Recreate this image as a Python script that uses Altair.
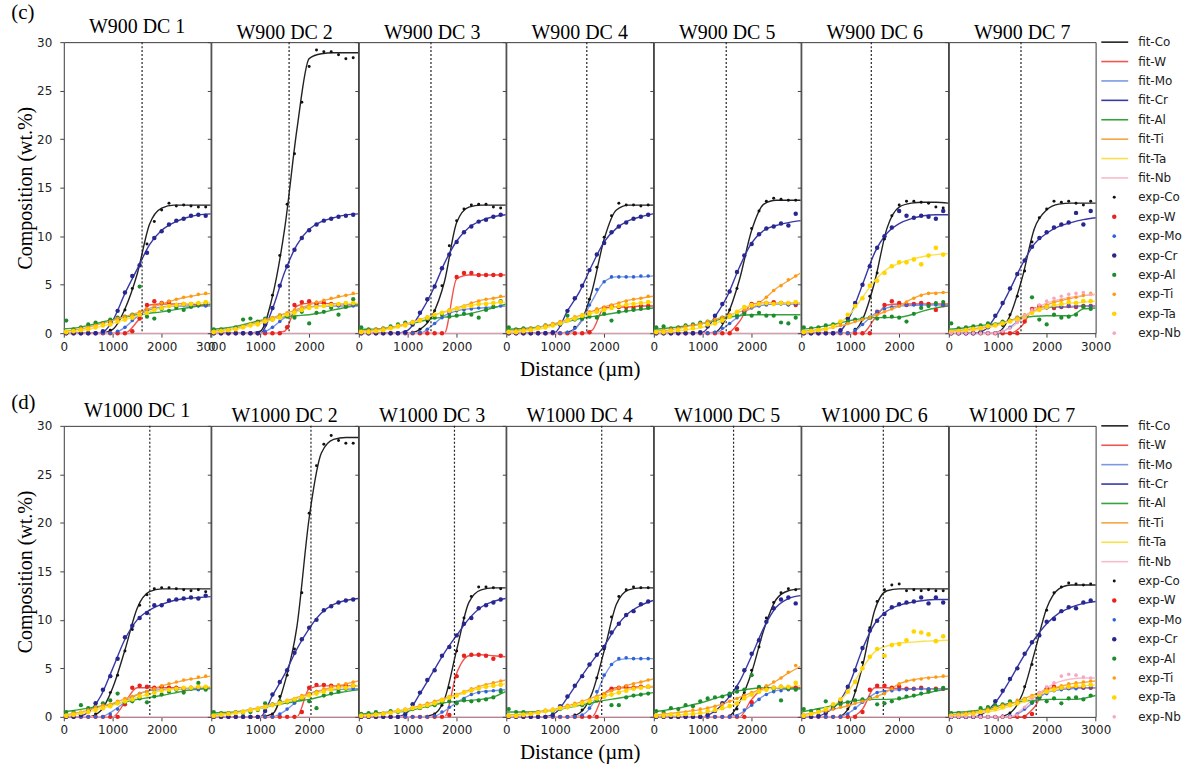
import altair as alt
import pandas as pd

# ---------------------------------------------------------------------------
# Sampling positions (µm): fitted curves and measured points
# ---------------------------------------------------------------------------
FIT_X = [0, 250, 500, 750, 1000, 1250, 1500, 1750, 2000, 2250, 2500, 2750, 3000]
EXP_X = [50, 200, 350, 500, 650, 800, 950, 1100, 1250, 1400, 1550, 1700, 1850,
         2000, 2150, 2300, 2450, 2600, 2750, 2900]

ELEMENTS = ["Co", "W", "Mo", "Cr", "Al", "Ti", "Ta", "Nb"]
FIT_COLORS = ["#222222", "#f2544e", "#7b98e2", "#3838a6", "#34a33a", "#f5a640", "#f9e04c", "#f7bccb"]
EXP_COLORS = ["#111111", "#e8221c", "#2f63d8", "#27278f", "#1c8c2c", "#ff9a10", "#ffd500", "#f8a6bf"]
EXP_SIZES = [9, 20, 13, 20, 18, 13, 22, 13]

ROW_C_TITLES = ["W900 DC 1", "W900 DC 2", "W900 DC 3", "W900 DC 4",
                "W900 DC 5", "W900 DC 6", "W900 DC 7"]
ROW_D_TITLES = ["W1000 DC 1", "W1000 DC 2", "W1000 DC 3", "W1000 DC 4",
                "W1000 DC 5", "W1000 DC 6", "W1000 DC 7"]
ROW_C_INTERFACE = [1600, 1590, 1475, 1645, 1480, 1430, 1475]
ROW_D_INTERFACE = [1758, 2037, 1955, 1950, 1630, 1676, 1786]

# Nb is absent from most couples: a flat fitted line and no measured points
NB_NONE_FIT = [0, 0, 0, 0, 0, 0, 0, 0, 0, 0, 0, 0, 0]
NB_NONE_EXP = []

# ---------------------------------------------------------------------------
# W900 couples
# ---------------------------------------------------------------------------
W900_DC1_FIT = dict(
    Co=[0, 0, 0, 0, 0.4, 2.5, 6.1, 11.2, 12.9, 13.2, 13.2, 13.2, 13.2],
    W=[0, 0, 0, 0, 0, 0, 1.2, 2.9, 3.0, 3.0, 3.0, 2.9, 2.9],
    Mo=[0, 0, 0, 0, 0, 0.6, 1.7, 2.4, 2.7, 2.8, 2.8, 2.8, 2.8],
    Cr=[0, 0, 0, 0, 1.3, 4.1, 6.6, 9.1, 10.6, 11.4, 11.9, 12.2, 12.3],
    Al=[0.45, 0.55, 0.8, 1.1, 1.4, 1.65, 1.9, 2.05, 2.2, 2.4, 2.6, 2.8, 3.0],
    Ti=[0.2, 0.35, 0.6, 0.95, 1.3, 1.7, 2.1, 2.55, 3.0, 3.4, 3.7, 3.95, 4.1],
    Ta=[0.1, 0.2, 0.4, 0.7, 1.0, 1.4, 1.8, 2.2, 2.6, 2.85, 3.0, 3.1, 3.2],
    Nb=NB_NONE_FIT,
)
W900_DC1_EXP = dict(
    Co=[0, 0, 0, 0, 0, 0, 0.3, 1.3, 2.4, 4.6, 7.0, 9.2, 11.5, 12.7, 13.4, 13.1, 13.2, 13.1, 13.0, 13.0],
    W=[0, 0, 0, 0, 0, 0, 0, 0, 0, 0.2, 1.5, 2.9, 3.3, 3.1, 3.2, 2.9, 3.0, 3.0, 2.9, 2.9],
    Mo=[0, 0, 0, 0, 0, 0, 0, 0.2, 0.6, 1.3, 1.9, 2.4, 2.6, 2.7, 2.8, 2.8, 2.9, 2.8, 2.8, 2.8],
    Cr=[0, 0, 0, 0, 0, 0.2, 1.1, 2.3, 4.2, 5.9, 7.0, 8.3, 9.8, 10.5, 11.2, 11.6, 11.8, 12.1, 12.2, 12.1],
    Al=[1.3, 0.4, 0.6, 0.9, 1.1, 1.0, 1.4, 1.6, 1.7, 1.9, 4.8, 1.7, 1.5, 2.5, 2.3, 2.6, 2.4, 2.7, 2.9, 3.1],
    Ti=[0.2, 0.3, 0.5, 0.6, 0.8, 1.0, 1.2, 1.5, 1.7, 1.9, 2.2, 2.5, 2.8, 3.1, 3.3, 3.5, 3.7, 3.8, 4.0, 4.1],
    Ta=[0.1, 0.2, 0.3, 0.4, 0.6, 0.8, 0.9, 1.2, 1.4, 1.6, 1.9, 2.1, 2.4, 2.6, 2.8, 2.9, 3.0, 3.0, 3.1, 3.2],
    Nb=NB_NONE_EXP,
)

W900_DC2_FIT = dict(
    Co=[0, 0, 0, 0, 0.2, 3.8, 10.8, 21.0, 28.3, 28.8, 28.9, 28.9, 28.9],
    W=[0, 0, 0, 0, 0, 0, 0.2, 2.8, 3.1, 3.1, 3.0, 3.0, 3.0],
    Mo=[0, 0, 0, 0, 0, 0.6, 1.6, 2.3, 2.7, 2.8, 2.8, 2.8, 2.8],
    Cr=[0, 0, 0, 0, 0, 2.5, 6.3, 9.1, 10.7, 11.5, 11.9, 12.2, 12.3],
    Al=[0.4, 0.5, 0.7, 1.0, 1.3, 1.5, 1.7, 1.8, 1.9, 2.1, 2.4, 2.65, 2.9],
    Ti=[0.2, 0.3, 0.5, 0.85, 1.2, 1.6, 2.0, 2.45, 2.9, 3.3, 3.6, 3.9, 4.1],
    Ta=[0.1, 0.2, 0.4, 0.7, 1.0, 1.4, 1.8, 2.2, 2.6, 2.8, 2.95, 3.05, 3.1],
    Nb=NB_NONE_FIT,
)
W900_DC2_EXP = dict(
    Co=[0, 0, 0, 0, 0, 0, 0, 1.0, 3.9, 8.0, 13.3, 18.5, 23.8, 27.5, 29.2, 29.0, 29.0, 28.7, 28.3, 28.4],
    W=[0, 0, 0, 0, 0, 0, 0, 0, 0, 0, 0.6, 2.9, 3.2, 3.3, 3.0, 3.1, 3.0, 2.9, 3.0, 3.0],
    Mo=[0, 0, 0, 0, 0, 0, 0, 0.2, 0.6, 1.2, 1.8, 2.2, 2.5, 2.7, 2.8, 2.8, 2.8, 2.8, 2.9, 2.8],
    Cr=[0, 0, 0, 0, 0, 0, 0, 0.9, 2.6, 4.9, 6.9, 8.6, 9.8, 10.6, 11.2, 11.6, 11.8, 12.0, 12.1, 12.2],
    Al=[0.4, 0.4, 0.4, 0.6, 1.4, 1.5, 1.2, 1.5, 1.4, 1.8, 1.7, 1.6, 2.2, 1.0, 2.1, 2.2, 2.6, 1.9, 2.7, 3.5],
    Ti=[0.2, 0.3, 0.4, 0.5, 0.7, 0.95, 1.1, 1.4, 1.6, 1.9, 2.1, 2.4, 2.7, 2.9, 3.2, 3.4, 3.6, 3.8, 3.9, 4.1],
    Ta=[0.1, 0.2, 0.3, 0.4, 0.6, 0.8, 0.9, 1.2, 1.4, 1.6, 1.9, 2.1, 2.4, 2.6, 2.7, 2.8, 2.9, 3.0, 3.1, 3.1],
    Nb=NB_NONE_EXP,
)

W900_DC3_FIT = dict(
    Co=[0, 0, 0, 0, 0, 0.4, 1.8, 5.3, 11.4, 13.0, 13.2, 13.2, 13.2],
    W=[0, 0, 0, 0, 0, 0, 0, 0, 5.6, 6.0, 6.0, 6.0, 6.0],
    Mo=[0, 0, 0, 0, 0, 0, 0.8, 1.8, 2.3, 2.5, 2.6, 2.7, 2.8],
    Cr=[0, 0, 0, 0, 0.3, 2.0, 4.3, 7.2, 9.5, 10.9, 11.6, 12.0, 12.2],
    Al=[0.4, 0.4, 0.5, 0.65, 0.9, 1.2, 1.5, 1.65, 1.8, 2.0, 2.3, 2.6, 3.0],
    Ti=[0.2, 0.3, 0.45, 0.7, 1.0, 1.4, 1.8, 2.2, 2.6, 3.0, 3.4, 3.6, 3.8],
    Ta=[0.1, 0.15, 0.3, 0.55, 0.9, 1.35, 1.8, 2.15, 2.5, 2.8, 3.0, 3.1, 3.2],
    Nb=NB_NONE_FIT,
)
W900_DC3_EXP = dict(
    Co=[0, 0, 0, 0, 0, 0, 0, 0.1, 0.4, 1.2, 2.3, 4.9, 9.0, 11.6, 12.8, 13.2, 13.3, 13.3, 13.0, 12.9],
    W=[0, 0, 0, 0, 0, 0, 0, 0, 0, 0, 0, 0, 2.2, 5.8, 6.2, 6.2, 6.0, 6.0, 6.0, 6.0],
    Mo=[0, 0, 0, 0, 0, 0, 0, 0, 0.1, 0.4, 1.0, 1.6, 2.0, 2.3, 2.4, 2.5, 2.6, 2.6, 2.7, 2.8],
    Cr=[0, 0, 0, 0, 0, 0, 0.1, 0.9, 2.1, 3.5, 4.8, 6.7, 8.1, 9.4, 10.4, 11.0, 11.5, 11.7, 12.0, 12.2],
    Al=[0.6, 0.4, 0.4, 0.5, 0.7, 0.9, 1.1, 1.1, 1.3, 1.5, 1.6, 1.9, 1.7, 1.8, 2.0, 1.9, 1.6, 2.4, 2.7, 3.3],
    Ti=[0.2, 0.3, 0.4, 0.5, 0.6, 0.8, 1.0, 1.2, 1.4, 1.7, 1.9, 2.1, 2.4, 2.6, 2.8, 3.1, 3.3, 3.5, 3.6, 3.8],
    Ta=[0.1, 0.1, 0.2, 0.3, 0.5, 0.7, 0.8, 1.1, 1.3, 1.6, 1.9, 2.1, 2.3, 2.5, 2.7, 2.8, 3.0, 3.0, 3.1, 3.2],
    Nb=NB_NONE_EXP,
)

W900_DC4_FIT = dict(
    Co=[0, 0, 0, 0, 0, 0.1, 1.0, 4.3, 9.7, 12.7, 13.2, 13.2, 13.2],
    W=[0, 0, 0, 0, 0, 0, 0, 0.3, 2.6, 2.7, 2.7, 2.8, 2.8],
    Mo=[0, 0, 0, 0, 0, 0, 1.0, 3.3, 5.3, 5.8, 5.8, 5.8, 5.9],
    Cr=[0, 0, 0, 0, 0.1, 2.3, 4.3, 7.0, 9.4, 10.8, 11.6, 12.0, 12.3],
    Al=[0.4, 0.45, 0.55, 0.7, 0.9, 1.2, 1.5, 1.7, 1.9, 2.1, 2.3, 2.45, 2.6],
    Ti=[0.2, 0.3, 0.45, 0.7, 1.0, 1.4, 1.8, 2.25, 2.7, 3.05, 3.4, 3.6, 3.8],
    Ta=[0.1, 0.15, 0.3, 0.5, 0.8, 1.25, 1.7, 2.05, 2.4, 2.7, 3.0, 3.1, 3.2],
    Nb=NB_NONE_FIT,
)
W900_DC4_EXP = dict(
    Co=[0, 0, 0, 0, 0, 0, 0, 0, 0.1, 0.6, 1.5, 3.5, 6.8, 9.9, 12.1, 13.4, 13.2, 13.2, 13.1, 13.2],
    W=[0, 0, 0, 0, 0, 0, 0, 0, 0, 0, 0, 0.1, 2.3, 2.6, 2.8, 2.7, 2.7, 2.6, 2.8, 2.8],
    Mo=[0, 0, 0, 0, 0, 0, 0, 0, 0.1, 0.5, 1.4, 2.9, 4.5, 5.3, 5.8, 5.8, 5.8, 5.8, 5.9, 5.9],
    Cr=[0, 0, 0, 0, 0, 0, 0.1, 0.9, 2.3, 3.6, 4.9, 6.5, 8.1, 9.3, 10.4, 11.0, 11.4, 11.8, 12.0, 12.2],
    Al=[0.6, 0.4, 0.5, 0.5, 0.6, 0.8, 0.9, 1.0, 1.8, 1.4, 1.5, 1.7, 1.6, 2.0, 1.3, 2.2, 2.3, 2.4, 2.5, 2.6],
    Ti=[0.2, 0.3, 0.4, 0.5, 0.6, 0.8, 1.0, 1.2, 1.4, 1.7, 1.9, 2.2, 2.5, 2.7, 2.9, 3.1, 3.3, 3.5, 3.6, 3.8],
    Ta=[0.1, 0.1, 0.2, 0.3, 0.5, 0.6, 0.8, 1.0, 1.3, 1.5, 1.8, 2.0, 2.2, 2.4, 2.6, 2.8, 2.9, 3.0, 3.1, 3.2],
    Nb=NB_NONE_EXP,
)

W900_DC5_FIT = dict(
    Co=[0, 0, 0, 0, 0, 0.1, 1.8, 5.5, 10.6, 13.3, 13.7, 13.7, 13.7],
    W=[0, 0, 0, 0, 0, 0, 0, 1.2, 3.0, 3.1, 3.1, 3.1, 3.1],
    Mo=[0, 0, 0, 0, 0, 0, 0.8, 1.8, 2.6, 2.9, 3.0, 3.0, 3.0],
    Cr=[0, 0, 0, 0, 0.1, 1.7, 3.8, 6.8, 9.3, 10.6, 11.1, 11.4, 11.6],
    Al=[0.4, 0.5, 0.65, 0.8, 1.0, 1.3, 1.6, 1.8, 1.9, 1.9, 1.9, 1.9, 1.9],
    Ti=[0.2, 0.3, 0.5, 0.75, 1.0, 1.4, 1.8, 2.2, 2.6, 3.5, 4.6, 5.4, 6.2],
    Ta=[0.1, 0.15, 0.25, 0.4, 0.6, 1.0, 1.5, 2.4, 2.9, 3.05, 3.1, 3.1, 3.1],
    Nb=NB_NONE_FIT,
)
W900_DC5_EXP = dict(
    Co=[0, 0, 0, 0, 0, 0, 0, 0, 0.1, 1.1, 2.4, 4.6, 8.0, 10.8, 12.6, 13.6, 13.9, 13.8, 13.7, 13.7],
    W=[0, 0, 0, 0, 0, 0, 0, 0, 0, 0, 0, 0.4, 2.2, 3.0, 3.1, 3.1, 3.2, 3.1, 3.0, 2.9],
    Mo=[0, 0, 0, 0, 0, 0, 0, 0, 0.1, 0.5, 1.0, 1.6, 2.2, 2.6, 2.8, 2.9, 3.0, 3.0, 2.9, 3.0],
    Cr=[0, 0, 0, 0, 0, 0, 0.1, 0.7, 1.8, 3.0, 4.3, 6.3, 8.0, 9.2, 10.2, 10.8, 11.0, 11.3, 11.1, 12.3],
    Al=[0.6, 0.7, 0.5, 0.6, 0.8, 0.9, 1.1, 1.2, 1.3, 1.6, 1.7, 1.8, 2.0, 1.8, 2.1, 1.8, 1.8, 1.1, 1.0, 1.6],
    Ti=[0.2, 0.3, 0.4, 0.5, 0.7, 0.8, 1.0, 1.2, 1.4, 1.6, 1.9, 2.1, 2.4, 2.7, 3.1, 3.7, 4.4, 4.9, 5.5, 5.9],
    Ta=[0.1, 0.1, 0.2, 0.3, 0.4, 0.5, 0.7, 0.9, 1.0, 1.3, 1.7, 2.2, 2.7, 2.9, 3.0, 3.1, 3.0, 3.1, 3.1, 3.2],
    Nb=NB_NONE_EXP,
)

W900_DC6_FIT = dict(
    Co=[0, 0, 0, 0, 0, 1.4, 5.3, 10.8, 13.0, 13.4, 13.5, 13.5, 13.4],
    W=[0, 0, 0, 0, 0, 0, 1.5, 2.9, 3.0, 3.0, 3.0, 3.0, 3.0],
    Mo=[0, 0, 0, 0, 0, 0.9, 2.0, 2.6, 2.8, 2.85, 2.9, 2.9, 2.9],
    Cr=[0, 0, 0, 0.1, 1.8, 5.0, 8.3, 10.3, 11.3, 11.8, 12.1, 12.2, 12.2],
    Al=[0.4, 0.55, 0.75, 1.0, 1.3, 1.5, 1.6, 1.6, 1.65, 1.9, 2.3, 2.6, 2.8],
    Ti=[0.2, 0.3, 0.45, 0.7, 1.0, 1.4, 1.8, 2.3, 2.8, 3.5, 4.0, 4.15, 4.2],
    Ta=[0.1, 0.2, 0.4, 0.9, 2.0, 3.7, 5.4, 6.6, 7.2, 7.6, 7.9, 8.1, 8.2],
    Nb=NB_NONE_FIT,
)
W900_DC6_EXP = dict(
    Co=[0, 0, 0, 0, 0, 0, 0, 0.4, 1.5, 3.8, 6.2, 9.7, 12.1, 13.2, 13.6, 13.6, 13.5, 13.4, 13.0, 12.9],
    W=[0, 0, 0, 0, 0, 0, 0, 0, 0, 0, 2.2, 2.9, 3.3, 3.1, 2.9, 3.0, 3.1, 3.0, 2.4, 2.9],
    Mo=[0, 0, 0, 0, 0, 0, 0, 0.3, 0.9, 1.6, 2.2, 2.5, 2.7, 2.8, 2.9, 2.9, 2.9, 2.8, 2.9, 2.9],
    Cr=[0, 0, 0, 0, 0, 0.3, 1.5, 3.1, 5.0, 6.9, 8.8, 10.0, 10.9, 12.6, 12.1, 11.9, 12.1, 12.0, 11.8, 12.6],
    Al=[0.6, 0.5, 0.6, 0.8, 0.9, 1.1, 1.2, 1.4, 1.5, 1.6, 1.5, 1.7, 1.7, 1.6, 1.2, 2.0, 2.6, 2.8, 3.1, 3.2],
    Ti=[0.2, 0.3, 0.4, 0.5, 0.6, 0.8, 1.0, 1.2, 1.4, 1.6, 1.9, 2.2, 2.5, 2.8, 3.2, 3.6, 3.9, 4.1, 4.1, 4.2],
    Ta=[0.1, 0.2, 0.3, 0.4, 0.7, 1.2, 1.9, 2.8, 3.6, 4.9, 5.4, 6.2, 6.9, 7.3, 7.3, 7.6, 7.1, 8.0, 8.8, 8.1],
    Nb=NB_NONE_EXP,
)

W900_DC7_FIT = dict(
    Co=[0, 0, 0, 0, 0.1, 1.8, 5.7, 10.8, 12.7, 13.3, 13.4, 13.4, 13.4],
    W=[0, 0, 0, 0, 0, 0, 0.8, 2.6, 2.7, 2.7, 2.7, 2.8, 2.8],
    Mo=[0, 0, 0, 0, 0, 0.6, 1.6, 2.3, 2.6, 2.7, 2.75, 2.8, 2.8],
    Cr=[0, 0, 0, 0.4, 2.1, 4.5, 7.1, 9.2, 10.3, 11.0, 11.4, 11.7, 11.9],
    Al=[0.4, 0.5, 0.7, 0.85, 1.0, 1.3, 1.6, 1.75, 1.8, 1.8, 1.8, 2.5, 2.6],
    Ti=[0.2, 0.3, 0.45, 0.65, 0.9, 1.3, 1.7, 2.3, 2.9, 3.3, 3.6, 3.85, 4.0],
    Ta=[0.1, 0.15, 0.3, 0.5, 0.8, 1.2, 1.6, 2.2, 2.7, 2.95, 3.1, 3.2, 3.3],
    Nb=[0, 0, 0, 0, 0.1, 0.5, 1.5, 2.5, 3.1, 3.45, 3.7, 3.9, 4.0],
)
W900_DC7_EXP = dict(
    Co=[0, 0, 0, 0, 0, 0, 0, 0.8, 1.9, 3.8, 6.4, 9.4, 11.9, 12.8, 13.6, 13.5, 13.6, 13.4, 13.2, 13.6],
    W=[0, 0, 0, 0, 0, 0, 0, 0, 0, 0, 1.2, 2.5, 2.8, 2.7, 2.6, 2.7, 2.8, 2.7, 2.8, 2.8],
    Mo=[0, 0, 0, 0, 0, 0, 0, 0.2, 0.6, 1.2, 1.8, 2.2, 2.5, 2.6, 2.7, 2.7, 2.8, 2.8, 2.8, 2.8],
    Cr=[0, 0, 0, 0, 0.1, 0.6, 1.8, 3.1, 4.6, 6.1, 7.5, 8.9, 9.8, 10.4, 10.9, 11.2, 11.4, 12.4, 11.2, 12.6],
    Al=[1.0, 0.5, 0.6, 0.7, 0.8, 1.0, 0.9, 1.2, 1.3, 1.6, 1.7, 3.7, 1.4, 0.9, 1.9, 1.6, 1.7, 1.9, 2.7, 2.5],
    Ti=[0.2, 0.3, 0.4, 0.5, 0.6, 0.8, 0.9, 1.1, 1.3, 1.6, 1.9, 2.2, 2.6, 2.9, 3.2, 3.4, 3.6, 3.7, 3.9, 4.1],
    Ta=[0.1, 0.2, 0.3, 0.4, 0.5, 0.7, 0.8, 1.0, 1.2, 1.4, 1.7, 2.1, 2.4, 2.7, 2.9, 3.0, 3.2, 3.1, 3.3, 3.3],
    Nb=[0, 0, 0, 0, 0, 0, 0, 0.2, 0.5, 1.1, 1.8, 2.4, 2.9, 3.3, 3.6, 3.8, 4.0, 4.1, 4.2, 4.0],
)

# ---------------------------------------------------------------------------
# W1000 couples
# ---------------------------------------------------------------------------
W1000_DC1_FIT = dict(
    Co=[0, 0, 0, 0.6, 3.0, 6.9, 11.2, 12.9, 13.2, 13.2, 13.2, 13.2, 13.2],
    W=[0, 0, 0, 0, 0, 1.5, 3.0, 3.0, 3.0, 3.0, 3.0, 3.0, 3.0],
    Mo=[0, 0, 0, 0, 0.6, 1.5, 2.3, 2.7, 2.8, 2.85, 2.9, 2.9, 2.9],
    Cr=[0, 0, 0.5, 2.1, 5.0, 8.0, 10.0, 11.0, 11.6, 12.0, 12.2, 12.3, 12.4],
    Al=[0.5, 0.7, 0.9, 1.1, 1.3, 1.55, 1.8, 2.0, 2.2, 2.45, 2.7, 2.85, 3.0],
    Ti=[0.2, 0.4, 0.7, 1.05, 1.4, 1.85, 2.3, 2.75, 3.2, 3.5, 3.8, 4.0, 4.2],
    Ta=[0.1, 0.25, 0.5, 0.85, 1.2, 1.6, 2.0, 2.35, 2.7, 2.85, 3.0, 3.05, 3.1],
    Nb=NB_NONE_FIT,
)
W1000_DC1_EXP = dict(
    Co=[0, 0, 0, 0, 0.3, 1.0, 2.5, 4.3, 6.8, 9.0, 11.5, 12.6, 13.2, 13.3, 13.3, 13.2, 13.1, 13.0, 13.1, 12.9],
    W=[0, 0, 0, 0, 0, 0, 0, 0, 1.3, 3.0, 3.2, 3.1, 3.0, 3.1, 3.0, 3.0, 2.9, 3.0, 3.0, 3.0],
    Mo=[0, 0, 0, 0, 0, 0, 0.3, 0.8, 1.5, 2.0, 2.4, 2.6, 2.7, 2.8, 2.8, 2.8, 2.9, 2.9, 2.8, 2.9],
    Cr=[0, 0, 0.2, 0.6, 1.4, 2.8, 4.2, 6.0, 8.2, 9.4, 10.2, 10.7, 11.5, 11.5, 12.0, 12.1, 12.2, 12.3, 12.2, 12.5],
    Al=[0.5, 0.5, 1.2, 0.9, 1.0, 1.4, 1.7, 2.4, 1.5, 1.6, 1.9, 1.5, 2.1, 2.3, 2.6, 2.8, 2.5, 2.9, 3.5, 2.8],
    Ti=[0.2, 0.4, 0.5, 0.7, 1.0, 1.2, 1.3, 1.6, 1.9, 2.1, 2.4, 2.6, 2.9, 3.2, 3.4, 3.6, 3.8, 3.9, 4.1, 4.2],
    Ta=[0.1, 0.2, 0.4, 0.5, 0.7, 0.9, 1.1, 1.4, 1.6, 1.8, 2.1, 2.3, 2.5, 2.7, 2.8, 2.9, 3.0, 3.0, 3.1, 3.1],
    Nb=NB_NONE_EXP,
)

W1000_DC2_FIT = dict(
    Co=[0, 0, 0, 0, 0, 0.3, 3.5, 9.3, 20.5, 27.2, 28.6, 28.8, 28.8],
    W=[0, 0, 0, 0, 0, 0, 0, 0, 2.9, 3.2, 3.2, 3.2, 3.2],
    Mo=[0, 0, 0, 0, 0, 0, 0.6, 1.6, 2.4, 2.7, 2.8, 2.85, 2.9],
    Cr=[0, 0, 0, 0, 0, 2.2, 4.4, 7.0, 9.1, 10.7, 11.6, 12.0, 12.2],
    Al=[0.4, 0.45, 0.5, 0.7, 0.9, 1.15, 1.4, 1.6, 1.8, 2.1, 2.4, 2.6, 2.8],
    Ti=[0.2, 0.3, 0.45, 0.7, 1.0, 1.3, 1.6, 2.0, 2.4, 2.75, 3.1, 3.4, 3.7],
    Ta=[0.1, 0.2, 0.35, 0.6, 0.9, 1.2, 1.5, 1.85, 2.2, 2.55, 2.9, 3.05, 3.2],
    Nb=NB_NONE_FIT,
)
W1000_DC2_EXP = dict(
    Co=[0, 0, 0, 0, 0, 0, 0, 0.1, 0.3, 2.1, 4.3, 7.0, 12.8, 21.0, 25.9, 28.1, 29.0, 28.5, 28.2, 28.2],
    W=[0, 0, 0, 0, 0, 0, 0, 0, 0, 0, 0, 0, 0.5, 3.0, 3.3, 3.3, 3.2, 3.1, 3.2, 3.2],
    Mo=[0, 0, 0, 0, 0, 0, 0, 0, 0, 0.3, 0.8, 1.4, 1.9, 2.4, 2.6, 2.7, 2.8, 2.8, 2.9, 2.9],
    Cr=[0, 0, 0, 0, 0, 0, 0, 0.6, 2.3, 3.6, 4.8, 6.6, 8.0, 9.2, 10.0, 11.0, 11.4, 11.8, 12.0, 12.1],
    Al=[0.5, 0.4, 0.4, 0.5, 0.4, 0.5, 0.7, 1.4, 1.3, 1.6, 1.5, 1.7, 1.9, 1.6, 0.9, 2.2, 2.4, 2.6, 2.9, 3.2],
    Ti=[0.2, 0.3, 0.4, 0.5, 0.6, 0.8, 0.9, 1.1, 1.3, 1.5, 1.7, 1.9, 2.2, 2.4, 2.6, 2.9, 3.1, 3.3, 3.4, 3.6],
    Ta=[0.1, 0.2, 0.3, 0.4, 0.5, 0.7, 0.8, 1.0, 1.2, 1.4, 1.6, 1.8, 2.0, 2.2, 2.4, 2.6, 2.8, 3.0, 3.0, 3.2],
    Nb=NB_NONE_EXP,
)

W1000_DC3_FIT = dict(
    Co=[0, 0, 0, 0, 0, 0, 0.2, 1.8, 6.9, 11.8, 13.1, 13.3, 13.3],
    W=[0, 0, 0, 0, 0, 0, 0, 0, 4.5, 6.3, 6.4, 6.3, 6.2],
    Mo=[0, 0, 0, 0, 0, 0, 0, 0.6, 1.5, 2.2, 2.6, 2.7, 2.8],
    Cr=[0, 0, 0, 0, 0.5, 2.4, 4.5, 6.6, 8.4, 10.1, 11.3, 11.9, 12.2],
    Al=[0.3, 0.35, 0.45, 0.5, 0.6, 0.9, 1.2, 1.45, 1.6, 1.7, 1.8, 2.05, 2.6],
    Ti=[0.2, 0.25, 0.4, 0.6, 0.8, 1.15, 1.5, 1.9, 2.3, 2.75, 3.2, 3.5, 3.8],
    Ta=[0.1, 0.15, 0.3, 0.5, 0.7, 1.0, 1.3, 1.75, 2.2, 2.6, 3.0, 3.2, 3.4],
    Nb=NB_NONE_FIT,
)
W1000_DC3_EXP = dict(
    Co=[0, 0, 0, 0, 0, 0, 0, 0, 0, 0, 0.3, 1.2, 3.0, 6.8, 10.2, 12.4, 13.4, 13.4, 13.3, 13.2],
    W=[0, 0, 0, 0, 0, 0, 0, 0, 0, 0, 0, 0, 0.2, 4.2, 6.3, 6.4, 6.4, 6.3, 6.0, 6.3],
    Mo=[0, 0, 0, 0, 0, 0, 0, 0, 0, 0, 0.1, 0.5, 1.0, 1.5, 1.9, 2.3, 2.5, 2.6, 2.7, 2.8],
    Cr=[0, 0, 0, 0, 0, 0, 0.3, 1.3, 2.5, 3.8, 4.8, 6.3, 7.2, 8.4, 9.6, 10.2, 11.2, 11.5, 11.8, 12.1],
    Al=[0.3, 0.4, 0.5, 0.3, 0.6, 0.5, 0.7, 0.8, 0.9, 1.1, 1.2, 1.5, 1.6, 1.4, 1.7, 1.6, 1.7, 1.8, 2.0, 2.6],
    Ti=[0.2, 0.2, 0.3, 0.4, 0.5, 0.7, 0.8, 1.0, 1.2, 1.4, 1.6, 1.8, 2.1, 2.3, 2.6, 2.9, 3.1, 3.3, 3.5, 3.7],
    Ta=[0.1, 0.1, 0.2, 0.3, 0.4, 0.6, 0.7, 0.9, 1.0, 1.2, 1.4, 1.7, 2.0, 2.2, 2.5, 2.7, 2.9, 3.1, 3.2, 3.3],
    Nb=NB_NONE_EXP,
)

W1000_DC4_FIT = dict(
    Co=[0, 0, 0, 0, 0, 0, 0.4, 2.4, 6.8, 11.6, 13.1, 13.3, 13.3],
    W=[0, 0, 0, 0, 0, 0, 0, 0, 2.4, 3.0, 3.0, 3.1, 3.1],
    Mo=[0, 0, 0, 0, 0, 0, 0.1, 1.2, 4.2, 5.8, 6.0, 6.0, 6.0],
    Cr=[0, 0, 0, 0, 0.4, 2.0, 3.9, 5.7, 7.3, 9.3, 10.7, 11.5, 12.0],
    Al=[0.5, 0.5, 0.5, 0.55, 0.7, 0.95, 1.2, 1.45, 1.7, 1.9, 2.1, 2.3, 2.5],
    Ti=[0.2, 0.25, 0.4, 0.6, 0.8, 1.15, 1.5, 1.95, 2.4, 2.85, 3.3, 3.6, 3.9],
    Ta=[0.1, 0.15, 0.3, 0.5, 0.7, 1.0, 1.3, 1.7, 2.1, 2.45, 2.8, 3.0, 3.2],
    Nb=NB_NONE_FIT,
)
W1000_DC4_EXP = dict(
    Co=[0, 0, 0, 0, 0, 0, 0, 0, 0, 0.2, 0.7, 1.6, 4.0, 7.0, 10.3, 12.4, 13.1, 13.4, 13.3, 13.3],
    W=[0, 0, 0, 0, 0, 0, 0, 0, 0, 0, 0, 0, 0, 2.3, 2.9, 3.0, 3.1, 3.0, 3.1, 3.1],
    Mo=[0, 0, 0, 0, 0, 0, 0, 0, 0, 0, 0.2, 0.9, 2.6, 4.3, 5.4, 6.0, 6.1, 6.0, 6.0, 6.0],
    Cr=[0, 0, 0, 0, 0, 0, 0.2, 1.1, 2.1, 3.2, 4.2, 5.4, 6.4, 7.2, 8.7, 9.6, 10.5, 10.9, 11.6, 11.9],
    Al=[0.8, 0.5, 0.5, 0.4, 0.5, 0.6, 0.6, 0.8, 1.0, 1.2, 1.2, 1.4, 1.7, 2.1, 1.2, 1.2, 2.0, 2.2, 2.3, 2.4],
    Ti=[0.2, 0.2, 0.3, 0.4, 0.5, 0.7, 0.8, 1.0, 1.2, 1.4, 1.6, 1.8, 2.1, 2.4, 2.7, 3.0, 3.2, 3.4, 3.6, 3.8],
    Ta=[0.1, 0.1, 0.2, 0.3, 0.4, 0.6, 0.7, 0.9, 1.0, 1.2, 1.4, 1.6, 1.9, 2.1, 2.3, 2.5, 2.7, 2.9, 3.0, 3.1],
    Nb=NB_NONE_EXP,
)

W1000_DC5_FIT = dict(
    Co=[0, 0, 0, 0, 0, 0, 0, 1.5, 4.6, 9.0, 12.1, 13.0, 13.2],
    W=[0, 0, 0, 0, 0, 0, 0, 0, 1.8, 2.9, 3.0, 3.0, 3.0],
    Mo=[0, 0, 0, 0, 0, 0, 0, 0.3, 1.2, 2.2, 2.7, 2.85, 2.9],
    Cr=[0, 0, 0, 0, 0, 0.6, 1.8, 3.6, 6.3, 9.2, 11.3, 12.2, 12.5],
    Al=[0.5, 0.7, 0.9, 1.2, 1.5, 1.9, 2.3, 2.7, 2.9, 3.0, 3.0, 2.95, 2.9],
    Ti=[0.2, 0.3, 0.45, 0.6, 0.8, 1.1, 1.5, 2.0, 2.5, 3.0, 3.7, 4.5, 5.2],
    Ta=[0.1, 0.15, 0.2, 0.3, 0.4, 0.65, 1.0, 1.6, 2.3, 2.8, 3.0, 3.1, 3.2],
    Nb=NB_NONE_FIT,
)
W1000_DC5_EXP = dict(
    Co=[0, 0, 0, 0, 0, 0, 0, 0, 0, 0, 0.1, 0.8, 2.5, 4.8, 7.2, 10.2, 11.8, 12.8, 13.2, 13.1],
    W=[0, 0, 0, 0, 0, 0, 0, 0, 0, 0, 0, 0, 0, 1.5, 2.9, 3.0, 3.0, 3.1, 3.0, 3.0],
    Mo=[0, 0, 0, 0, 0, 0, 0, 0, 0, 0, 0, 0.1, 0.7, 1.2, 1.8, 2.3, 2.6, 2.7, 2.8, 2.9],
    Cr=[0, 0, 0, 0, 0, 0, 0, 0.2, 0.6, 1.4, 2.2, 3.0, 4.8, 6.5, 7.9, 9.8, 11.2, 12.1, 12.3, 11.7],
    Al=[0.6, 0.5, 0.9, 0.8, 1.2, 1.1, 1.6, 1.9, 2.0, 2.1, 2.4, 2.6, 2.8, 4.3, 3.1, 3.0, 2.9, 1.7, 2.9, 2.8],
    Ti=[0.2, 0.3, 0.3, 0.4, 0.5, 0.7, 0.8, 0.9, 1.1, 1.3, 1.6, 1.9, 2.2, 2.5, 2.8, 3.2, 3.6, 4.0, 4.6, 5.3],
    Ta=[0.1, 0.1, 0.2, 0.2, 0.3, 0.3, 0.4, 0.6, 0.7, 0.9, 1.1, 1.4, 1.9, 2.3, 2.6, 2.8, 3.0, 3.1, 3.1, 3.5],
    Nb=NB_NONE_EXP,
)

W1000_DC6_FIT = dict(
    Co=[0, 0, 0, 0, 1.2, 5.2, 11.0, 13.0, 13.2, 13.2, 13.2, 13.2, 13.2],
    W=[0, 0, 0, 0, 0, 0.8, 3.0, 3.0, 2.9, 2.9, 2.9, 2.9, 2.9],
    Mo=[0, 0, 0, 0, 0.5, 1.5, 2.4, 2.7, 2.8, 2.85, 2.9, 2.9, 2.9],
    Cr=[0, 0, 0.4, 1.4, 3.6, 7.0, 9.6, 10.9, 11.5, 11.8, 12.0, 12.1, 12.1],
    Al=[0.5, 0.75, 1.0, 1.3, 1.6, 1.75, 1.8, 1.8, 1.85, 2.1, 2.4, 2.65, 2.9],
    Ti=[0.2, 0.4, 0.6, 0.9, 1.2, 1.6, 2.0, 2.6, 3.4, 3.8, 4.0, 4.1, 4.2],
    Ta=[0.1, 0.3, 0.8, 1.5, 2.9, 5.0, 6.7, 7.3, 7.6, 7.7, 7.8, 7.85, 7.9],
    Nb=NB_NONE_FIT,
)
W1000_DC6_EXP = dict(
    Co=[0, 0, 0, 0, 0, 0.1, 0.8, 2.7, 5.6, 9.2, 11.9, 13.1, 13.6, 13.7, 13.0, 13.1, 13.0, 13.1, 13.0, 13.0],
    W=[0, 0, 0, 0, 0, 0, 0, 0, 0.5, 2.8, 3.2, 3.2, 3.0, 3.1, 2.9, 2.9, 3.0, 2.8, 2.9, 2.9],
    Mo=[0, 0, 0, 0, 0, 0, 0.3, 0.9, 1.5, 2.0, 2.5, 2.6, 2.7, 2.8, 2.8, 2.9, 2.9, 2.9, 2.8, 2.9],
    Cr=[0, 0, 0.1, 0.4, 0.9, 1.6, 3.1, 4.8, 7.1, 8.9, 9.9, 10.6, 11.3, 11.6, 11.8, 11.9, 12.3, 11.7, 12.3, 11.8],
    Al=[0.8, 0.6, 0.7, 1.6, 1.1, 1.3, 1.5, 1.7, 1.8, 1.9, 1.3, 1.4, 1.6, 1.9, 2.1, 2.2, 2.4, 2.6, 2.8, 3.0],
    Ti=[0.2, 0.3, 0.5, 0.6, 0.8, 1.0, 1.2, 1.4, 1.6, 1.9, 2.1, 2.4, 2.9, 3.4, 3.7, 3.8, 3.9, 4.0, 4.1, 4.2],
    Ta=[0.1, 0.3, 0.5, 0.8, 1.3, 1.8, 2.6, 3.6, 5.0, 6.2, 7.0, 6.3, 7.4, 7.5, 7.9, 8.8, 8.7, 8.5, 7.8, 8.3],
    Nb=NB_NONE_EXP,
)

W1000_DC7_FIT = dict(
    Co=[0, 0, 0, 0, 0, 0.4, 2.3, 6.6, 11.2, 13.2, 13.6, 13.6, 13.6],
    W=[0, 0, 0, 0, 0, 0, 0, 1.0, 2.9, 3.0, 3.0, 3.0, 3.0],
    Mo=[0, 0, 0, 0, 0, 0, 0.6, 1.6, 2.5, 2.8, 2.9, 3.0, 3.0],
    Cr=[0, 0, 0, 0.5, 1.8, 3.8, 6.0, 8.0, 9.6, 10.7, 11.3, 11.7, 11.9],
    Al=[0.4, 0.5, 0.6, 0.8, 1.1, 1.4, 1.6, 1.7, 1.8, 1.8, 1.8, 1.9, 2.2],
    Ti=[0.2, 0.3, 0.45, 0.65, 0.9, 1.3, 1.8, 2.3, 2.8, 3.1, 3.4, 3.55, 3.7],
    Ta=[0.1, 0.15, 0.3, 0.5, 0.7, 1.1, 1.5, 2.1, 2.6, 2.9, 3.1, 3.2, 3.3],
    Nb=[0, 0, 0, 0, 0, 0, 0.8, 2.0, 3.0, 3.6, 3.9, 4.0, 4.0],
)
W1000_DC7_EXP = dict(
    Co=[0, 0, 0, 0, 0, 0, 0, 0.1, 0.4, 1.4, 3.1, 5.4, 8.5, 11.0, 12.8, 13.4, 13.8, 13.7, 13.6, 13.7],
    W=[0, 0, 0, 0, 0, 0, 0, 0, 0, 0, 0, 0.3, 2.0, 2.9, 3.1, 3.0, 3.0, 3.1, 3.0, 3.0],
    Mo=[0, 0, 0, 0, 0, 0, 0, 0, 0.1, 0.3, 0.8, 1.4, 1.9, 2.4, 2.7, 2.8, 2.9, 2.9, 3.0, 3.0],
    Cr=[0, 0, 0, 0, 0.2, 0.8, 1.6, 2.7, 3.9, 5.0, 6.5, 7.7, 8.4, 9.8, 10.1, 10.9, 11.3, 11.2, 11.8, 12.0],
    Al=[0.4, 0.4, 0.4, 0.5, 0.9, 1.0, 1.2, 1.3, 1.6, 1.4, 1.8, 1.5, 2.0, 1.6, 1.9, 1.4, 1.9, 2.0, 1.8, 2.2],
    Ti=[0.2, 0.3, 0.4, 0.5, 0.6, 0.8, 1.0, 1.2, 1.4, 1.7, 1.9, 2.2, 2.5, 2.8, 3.0, 3.2, 3.4, 3.5, 3.6, 3.7],
    Ta=[0.1, 0.1, 0.2, 0.3, 0.5, 0.6, 0.8, 1.0, 1.2, 1.4, 1.7, 2.0, 2.3, 2.6, 2.8, 3.0, 3.1, 3.2, 3.2, 3.3],
    Nb=[0, 0, 0, 0, 0, 0, 0, 0, 0, 0.2, 1.0, 1.9, 2.5, 3.1, 3.5, 4.2, 4.4, 4.3, 4.1, 4.0],
)

ROW_C_DATA = [(W900_DC1_FIT, W900_DC1_EXP), (W900_DC2_FIT, W900_DC2_EXP),
              (W900_DC3_FIT, W900_DC3_EXP), (W900_DC4_FIT, W900_DC4_EXP),
              (W900_DC5_FIT, W900_DC5_EXP), (W900_DC6_FIT, W900_DC6_EXP),
              (W900_DC7_FIT, W900_DC7_EXP)]
ROW_D_DATA = [(W1000_DC1_FIT, W1000_DC1_EXP), (W1000_DC2_FIT, W1000_DC2_EXP),
              (W1000_DC3_FIT, W1000_DC3_EXP), (W1000_DC4_FIT, W1000_DC4_EXP),
              (W1000_DC5_FIT, W1000_DC5_EXP), (W1000_DC6_FIT, W1000_DC6_EXP),
              (W1000_DC7_FIT, W1000_DC7_EXP)]

LEGEND_LABELS = ["fit-" + e for e in ELEMENTS] + ["exp-" + e for e in ELEMENTS]

# ---------------------------------------------------------------------------
# Shared scales and styling
# ---------------------------------------------------------------------------
PANEL_W = 147.3
PANEL_H = 292
SERIF = "Liberation Serif"
SANS = "DejaVu Sans"

fit_scale = alt.Scale(domain=ELEMENTS, range=FIT_COLORS)
exp_scale = alt.Scale(domain=ELEMENTS, range=EXP_COLORS)
size_scale = alt.Scale(type="ordinal", domain=ELEMENTS, range=EXP_SIZES)


def profile_frame(fit, exp):
    rows = []
    for el in ELEMENTS:
        assert len(fit[el]) == len(FIT_X), el
        for x, v in zip(FIT_X, fit[el]):
            rows.append({"element": el, "kind": "fit", "x": x, "y": v})
    for el in ELEMENTS:
        assert len(exp[el]) in (0, len(EXP_X)), el
        for x, v in zip(EXP_X, exp[el]):
            rows.append({"element": el, "kind": "exp", "x": x, "y": v})
    return pd.DataFrame(rows)


def panel(fit, exp, title, interface, idx, show_3000):
    df = profile_frame(fit, exp)
    xticks = [0, 1000, 2000, 3000] if show_3000 else [0, 1000, 2000]
    x_enc = alt.X(
        "x:Q",
        scale=alt.Scale(domain=[0, 3000], nice=False, zero=False),
        axis=alt.Axis(values=xticks, format="d", grid=False, domain=False,
                      tickSize=4, labelPadding=4, labelFlush=False,
                      title="Distance (µm)" if idx == 3 else None,
                      titlePadding=6),
    )
    y_enc = alt.Y(
        "y:Q",
        scale=alt.Scale(domain=[0, 30], nice=False),
        axis=alt.Axis(values=[0, 5, 10, 15, 20, 25, 30], grid=False, domain=False,
                      tickSize=4, labels=(idx == 0), labelPadding=8,
                      title="Composition (wt.%)" if idx == 0 else None,
                      titlePadding=1, titleFontSize=20),
    )
    base = alt.Chart(df)
    fits = base.transform_filter(alt.datum.kind == "fit").mark_line(
        strokeWidth=1.4, interpolate="monotone"
    ).encode(
        x=x_enc, y=y_enc,
        stroke=alt.Stroke("element:N", scale=fit_scale, legend=None),
    )
    points = base.transform_filter(alt.datum.kind == "exp").mark_circle(
        opacity=1
    ).encode(
        x=x_enc, y=y_enc,
        color=alt.Color("element:N", scale=exp_scale, legend=None),
        size=alt.Size("element:N", scale=size_scale, legend=None),
    )
    rule = alt.Chart(pd.DataFrame({"x": [interface]})).mark_rule(
        color="#222222", strokeWidth=1.2, strokeDash=[2, 2]
    ).encode(x=x_enc)
    return alt.layer(fits, rule, points).properties(
        width=PANEL_W, height=PANEL_H,
        title=alt.TitleParams(title, font=SERIF, fontSize=20, fontWeight="normal",
                              color="black", offset=-1),
    )


def legend_panel():
    leg = pd.DataFrame({
        "label": LEGEND_LABELS,
        "element": ELEMENTS + ELEMENTS,
        "kind": ["fit"] * len(ELEMENTS) + ["exp"] * len(ELEMENTS),
    })
    ly = alt.Y("label:N", scale=alt.Scale(type="point", domain=LEGEND_LABELS, padding=0),
               axis=None)
    base = alt.Chart(leg)
    lines = base.transform_filter(alt.datum.kind == "fit").mark_rule(strokeWidth=1.6).encode(
        y=ly, x=alt.value(5), x2=alt.value(32),
        stroke=alt.Stroke("element:N", scale=fit_scale, legend=None),
    )
    dots = base.transform_filter(alt.datum.kind == "exp").mark_circle(opacity=1).encode(
        y=ly, x=alt.value(18),
        color=alt.Color("element:N", scale=exp_scale, legend=None),
        size=alt.Size("element:N", scale=size_scale, legend=None),
    )
    labels = base.mark_text(font=SANS, fontSize=12, align="left", baseline="middle",
                            color="#222222").encode(y=ly, x=alt.value(42), text="label:N")
    return alt.layer(lines, dots, labels).properties(
        width=92, height=PANEL_H, view=alt.ViewBackground(strokeOpacity=0)
    )


def row(data, titles, interfaces, tag, tag_offset, first_3000):
    panels = []
    for i, ((fit, exp), title, iface) in enumerate(zip(data, titles, interfaces)):
        panels.append(panel(fit, exp, title, iface, i,
                            show_3000=(i == 6) or (i == 0 and first_3000)))
    panels.append(legend_panel())
    return alt.hconcat(
        *panels, spacing=0, bounds="flush",
        title=alt.TitleParams(tag, anchor="start", orient="top", frame="bounds",
                              font=SERIF, fontSize=21, fontWeight="normal",
                              color="black", offset=tag_offset, dx=-4),
    )


row_c = row(ROW_C_DATA, ROW_C_TITLES, ROW_C_INTERFACE, "(c)", -6, True)
row_d = row(ROW_D_DATA, ROW_D_TITLES, ROW_D_INTERFACE, "(d)", -13, False)

chart = alt.vconcat(row_c, row_d, spacing=12).properties(
    padding={"left": 11, "top": 0, "right": 0, "bottom": 0},
    background="white",
).configure_view(
    stroke="#3a3a3a", strokeWidth=1
).configure_axis(
    labelFont=SANS, labelFontSize=12, labelColor="#222222",
    tickColor="#444444", tickWidth=1,
    titleFont=SERIF, titleFontSize=21, titleFontWeight="normal", titleColor="black",
)

chart.save("out.html", embed_options={"renderer": "svg", "actions": False})
